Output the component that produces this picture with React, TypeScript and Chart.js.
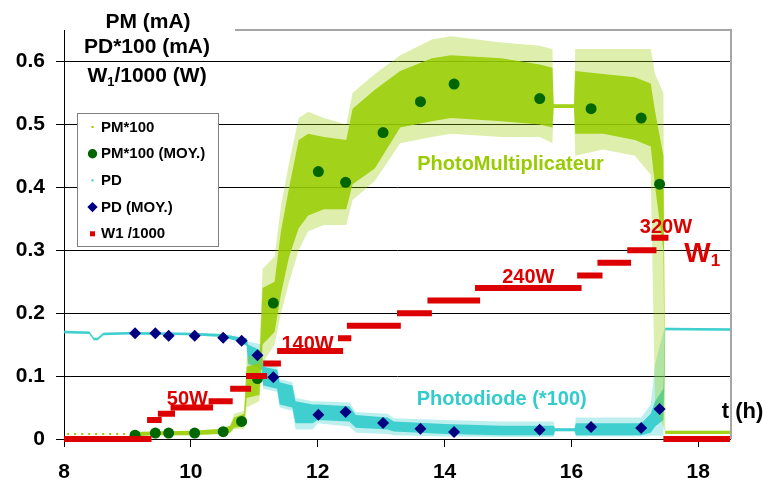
import React, { useEffect, useRef } from "react";
import { Chart, registerables } from "chart.js";

Chart.register(...registerables);

// ---------- DATA ----------
// W1 heating power steps (W), each held from start to end (h)
const w1Start = [8.0, 9.31, 9.48, 9.68, 10.28, 10.62, 10.87, 11.14, 11.36, 12.32, 12.46, 13.25, 13.73, 14.48, 16.09, 16.41, 16.88, 17.26, 17.45];
const w1End = [9.38, 9.54, 9.75, 10.35, 10.66, 10.95, 11.2, 11.42, 12.4, 12.53, 13.31, 13.8, 14.56, 16.16, 16.49, 16.94, 17.34, 17.53, 18.5];
const w1Watts = [0, 30, 40, 50, 60, 80, 100, 120, 140, 160, 180, 200, 220, 240, 260, 280, 300, 320, 0];

// averaged points (MOY.)
const meanTimes = [9.12, 9.44, 9.65, 10.06, 10.51, 10.8, 11.05, 11.3, 12.01, 12.44, 13.03, 13.62, 14.15, 15.5, 16.31, 17.1, 17.39];
const pmMean = [0.006, 0.0095, 0.0095, 0.0095, 0.0116, 0.028, 0.096, 0.216, 0.425, 0.408, 0.487, 0.536, 0.564, 0.541, 0.525, 0.51, 0.405];
const pdMean = [0.168, 0.168, 0.164, 0.164, 0.161, 0.156, 0.133, 0.098, 0.0386, 0.043, 0.0254, 0.0163, 0.011, 0.0148, 0.019, 0.0175, 0.0476];

// PM*100 raw readings: sparse early readings, then envelope of the point cloud
const pmSparseTimes = [8.05, 9.1];
const pmSparseLevel = [0.008, 0.008];
const pmTimes = [9.1, 9.4, 10.0, 10.45, 10.62, 10.68, 10.84, 10.88, 11.08, 11.13, 11.32, 11.42, 11.55, 11.7, 11.85, 12.1, 12.45, 12.55, 12.9, 13.3, 13.8, 14.1, 14.9, 15.5, 15.7, 15.72, 16.04, 16.06, 16.5, 17.0, 17.25, 17.32, 17.45, 17.48, 18.5];
const pmCoreLow = [0.004, 0.006, 0.006, 0.008, 0.01, 0.018, 0.02, 0.065, 0.07, 0.15, 0.17, 0.23, 0.29, 0.335, 0.355, 0.365, 0.365, 0.405, 0.43, 0.495, 0.505, 0.51, 0.505, 0.5, 0.495, 0.526, 0.526, 0.485, 0.485, 0.475, 0.465, 0.4, 0.3, 0.008, 0.008];
const pmCoreHigh = [0.011, 0.012, 0.013, 0.016, 0.021, 0.034, 0.04, 0.115, 0.12, 0.24, 0.25, 0.33, 0.4, 0.475, 0.485, 0.48, 0.475, 0.525, 0.555, 0.585, 0.605, 0.61, 0.605, 0.595, 0.59, 0.532, 0.532, 0.585, 0.58, 0.575, 0.565, 0.52, 0.45, 0.013, 0.013];
const pmOuterLow = [0.004, 0.006, 0.006, 0.008, 0.01, 0.016, 0.016, 0.05, 0.06, 0.12, 0.15, 0.2, 0.25, 0.3, 0.33, 0.34, 0.34, 0.38, 0.41, 0.47, 0.48, 0.485, 0.48, 0.48, 0.47, 0.526, 0.526, 0.45, 0.46, 0.45, 0.42, 0.05, 0.02, 0.008, 0.008];
const pmOuterHigh = [0.011, 0.012, 0.013, 0.016, 0.021, 0.04, 0.045, 0.13, 0.14, 0.27, 0.29, 0.37, 0.44, 0.51, 0.52, 0.51, 0.5, 0.55, 0.58, 0.61, 0.635, 0.64, 0.63, 0.625, 0.62, 0.532, 0.532, 0.62, 0.62, 0.62, 0.62, 0.58, 0.55, 0.013, 0.013];

// PD (*100) raw readings: envelope of the point cloud
const pdTimes = [8.0, 8.4, 8.47, 8.53, 8.62, 9.0, 10.0, 10.5, 10.75, 10.88, 10.9, 11.12, 11.14, 11.36, 11.4, 11.6, 11.65, 11.92, 12.0, 12.5, 12.6, 13.1, 13.2, 14.0, 14.9, 15.72, 15.74, 16.05, 16.07, 17.1, 17.25, 17.32, 17.45, 17.48, 18.5];
const pdCoreLow = [0.168, 0.167, 0.157, 0.157, 0.165, 0.166, 0.165, 0.162, 0.155, 0.148, 0.12, 0.11, 0.085, 0.08, 0.055, 0.05, 0.025, 0.025, 0.03, 0.028, 0.018, 0.015, 0.012, 0.008, 0.006, 0.006, 0.0125, 0.0125, 0.006, 0.006, 0.01, 0.02, 0.03, 0.173, 0.172];
const pdCoreHigh = [0.172, 0.171, 0.161, 0.161, 0.169, 0.17, 0.169, 0.167, 0.162, 0.16, 0.15, 0.14, 0.115, 0.11, 0.09, 0.085, 0.06, 0.055, 0.055, 0.052, 0.038, 0.034, 0.028, 0.024, 0.021, 0.021, 0.017, 0.017, 0.025, 0.025, 0.04, 0.06, 0.08, 0.177, 0.176];
const pdOuterLow = [0.168, 0.167, 0.157, 0.157, 0.165, 0.166, 0.165, 0.162, 0.155, 0.148, 0.11, 0.1, 0.08, 0.075, 0.05, 0.045, 0.015, 0.015, 0.025, 0.02, 0.01, 0.008, 0.006, 0.004, 0.003, 0.003, 0.0125, 0.0125, 0.004, 0.004, 0.005, 0.005, 0.005, 0.173, 0.172];
const pdOuterHigh = [0.172, 0.171, 0.161, 0.161, 0.169, 0.17, 0.169, 0.167, 0.162, 0.16, 0.155, 0.15, 0.12, 0.115, 0.095, 0.09, 0.065, 0.06, 0.06, 0.058, 0.043, 0.04, 0.033, 0.03, 0.028, 0.028, 0.017, 0.017, 0.034, 0.034, 0.055, 0.12, 0.17, 0.177, 0.176];

// axis ticks
const xTicks = [8, 10, 12, 14, 16, 18];
const yTicks = [0, 0.1, 0.2, 0.3, 0.4, 0.5, 0.6];

// ---------- STYLE ----------
const FONT = '"Liberation Sans", Arial, Helvetica, sans-serif';
const PM_COLOR = "#99cc00";
const PD_COLOR = "#33cccc";
const PM_MEAN_COLOR = "#006600";
const PD_MEAN_COLOR = "#000080";
const RED = "#dd0000";

const legendItems = [
  { label: "PM*100", kind: "dot", color: PM_COLOR },
  { label: "PM*100 (MOY.)", kind: "circle", color: PM_MEAN_COLOR },
  { label: "PD", kind: "dot", color: PD_COLOR },
  { label: "PD (MOY.)", kind: "diamond", color: PD_MEAN_COLOR },
  { label: "W1 /1000", kind: "square", color: RED },
];

const notes = [
  { text: "PhotoMultiplicateur", x: 15.04, y: 0.427, color: PM_COLOR, size: 20, align: "center" },
  { text: "Photodiode (*100)", x: 14.9, y: 0.0545, color: PD_COLOR, size: 20, align: "center" },
  { text: "50W", x: 9.945, y: 0.0545, color: RED, size: 20, align: "center" },
  { text: "140W", x: 11.84, y: 0.1417, color: RED, size: 20, align: "center" },
  { text: "240W", x: 15.32, y: 0.248, color: RED, size: 20, align: "center" },
  { text: "320W", x: 17.49, y: 0.3275, color: RED, size: 20, align: "center" },
  { text: "t (h)", x: 18.37, y: 0.0338, color: "#000", size: 22, align: "left" },
];

const pts = (xs: number[], ys: number[]) => xs.map((x, i) => ({ x, y: ys[i] }));

function buildW1() {
  const out: { x: number; y: number | null }[] = [];
  w1Start.forEach((s, i) => {
    const v = w1Watts[i] / 1000;
    out.push({ x: s, y: v }, { x: w1End[i], y: v }, { x: w1End[i], y: null });
  });
  return out;
}

const decor = {
  id: "decor",
  beforeDatasetsDraw(chart: any) {
    const { ctx, chartArea } = chart;
    const { top, right, bottom } = chartArea;
    ctx.save();
    ctx.strokeStyle = "#a6a6a6";
    ctx.lineWidth = 2;
    ctx.beginPath();
    ctx.moveTo(235, top);
    ctx.lineTo(right + 1, top);
    ctx.lineTo(right + 1, bottom);
    ctx.stroke();
    ctx.restore();
  },
  afterDraw(chart: any) {
    const { ctx, scales, chartArea } = chart;
    const xs = scales.x;
    const ys = scales.y;
    ctx.save();
    // annotations
    for (const n of notes) {
      ctx.font = `bold ${n.size}px ${FONT}`;
      ctx.fillStyle = n.color;
      ctx.textAlign = n.align;
      ctx.textBaseline = "alphabetic";
      ctx.fillText(n.text, xs.getPixelForValue(n.x), ys.getPixelForValue(n.y));
    }
    // big W1
    {
      const px = xs.getPixelForValue(17.78);
      const py = ys.getPixelForValue(0.2814);
      ctx.fillStyle = RED;
      ctx.textAlign = "left";
      ctx.font = `bold 28px ${FONT}`;
      ctx.fillText("W", px, py);
      const w = ctx.measureText("W").width;
      ctx.font = `bold 17px ${FONT}`;
      ctx.fillText("1", px + w, py + 4);
    }
    // y-axis title (three lines)
    ctx.fillStyle = "#000";
    ctx.textAlign = "center";
    ctx.font = `bold 21px ${FONT}`;
    ctx.fillText("PM (mA)", 148, 28);
    ctx.fillText("PD*100 (mA)", 147, 53);
    {
      ctx.textAlign = "left";
      ctx.font = `bold 21px ${FONT}`;
      const wW = ctx.measureText("W").width;
      const wRest = ctx.measureText("/1000 (W)").width;
      ctx.font = `bold 13px ${FONT}`;
      const w1 = ctx.measureText("1").width;
      const total = wW + w1 + wRest;
      let x = 147 - total / 2;
      ctx.font = `bold 21px ${FONT}`;
      ctx.fillText("W", x, 82);
      x += wW;
      ctx.font = `bold 13px ${FONT}`;
      ctx.fillText("1", x, 86);
      x += w1;
      ctx.font = `bold 21px ${FONT}`;
      ctx.fillText("/1000 (W)", x, 82);
    }
    // legend box
    const bx = chartArea.left + 13;
    const by = 113;
    const bw = 141;
    const bh = 133;
    ctx.fillStyle = "#fff";
    ctx.fillRect(bx, by, bw, bh);
    ctx.strokeStyle = "#808080";
    ctx.lineWidth = 1;
    ctx.strokeRect(bx + 0.5, by + 0.5, bw, bh);
    legendItems.forEach((it, i) => {
      const cy = by + 14 + i * 26.7;
      const mx = bx + 15.5;
      ctx.fillStyle = it.color;
      if (it.kind === "dot") {
        ctx.fillRect(mx - 1, cy - 1, 2, 2);
      } else if (it.kind === "circle") {
        ctx.beginPath();
        ctx.arc(mx, cy, 4.7, 0, Math.PI * 2);
        ctx.fill();
      } else if (it.kind === "diamond") {
        ctx.beginPath();
        ctx.moveTo(mx, cy - 5.2);
        ctx.lineTo(mx + 5.2, cy);
        ctx.lineTo(mx, cy + 5.2);
        ctx.lineTo(mx - 5.2, cy);
        ctx.closePath();
        ctx.fill();
      } else {
        ctx.fillRect(mx - 2.5, cy - 2.5, 5, 5);
      }
      ctx.fillStyle = "#000";
      ctx.font = `bold 15px ${FONT}`;
      ctx.textAlign = "left";
      ctx.textBaseline = "middle";
      ctx.fillText(it.label, bx + 24, cy + 0.5);
    });
    ctx.restore();
  },
};

export default function App() {
  const ref = useRef<HTMLCanvasElement | null>(null);
  useEffect(() => {
    if (!ref.current) return;
    const band = (lo: number[], hi: number[], xs: number[], color: string, order: number, label: string) => [
      {
        label: label + " lo",
        data: pts(xs, lo),
        borderWidth: 0,
        pointRadius: 0,
        fill: false,
        order,
      },
      {
        label,
        data: pts(xs, hi),
        borderWidth: 0,
        pointRadius: 0,
        fill: "-1",
        backgroundColor: color,
        order,
      },
    ];
    const chart = new Chart(ref.current, {
      type: "line",
      data: {
        datasets: [
          ...band(pdOuterLow, pdOuterHigh, pdTimes, "rgba(51,204,204,0.32)", 14, "PD outer"),
          ...band(pdCoreLow, pdCoreHigh, pdTimes, "rgba(51,204,204,0.9)", 13, "PD"),
          ...band(pmOuterLow, pmOuterHigh, pmTimes, "rgba(153,204,0,0.32)", 12, "PM outer"),
          ...band(pmCoreLow, pmCoreHigh, pmTimes, "rgba(153,204,0,0.85)", 11, "PM*100"),
          {
            label: "PM*100 sparse",
            data: pts(pmSparseTimes, pmSparseLevel),
            borderColor: PM_COLOR,
            borderWidth: 2,
            borderDash: [2, 5],
            pointRadius: 0,
            fill: false,
            order: 10,
          },
          {
            label: "PD (MOY.)",
            data: pts(meanTimes, pdMean),
            showLine: false,
            pointStyle: "rectRot",
            pointRadius: 6,
            pointBackgroundColor: PD_MEAN_COLOR,
            pointBorderColor: PD_MEAN_COLOR,
            pointBorderWidth: 0,
            clip: false,
            order: 3,
          },
          {
            label: "PM*100 (MOY.)",
            data: pts(meanTimes, pmMean),
            showLine: false,
            pointStyle: "circle",
            pointRadius: 5.5,
            pointBackgroundColor: PM_MEAN_COLOR,
            pointBorderColor: PM_MEAN_COLOR,
            pointBorderWidth: 0,
            clip: false,
            order: 2,
          },
          {
            label: "W1 /1000",
            data: buildW1(),
            borderColor: RED,
            borderWidth: 6,
            borderCapStyle: "butt",
            pointRadius: 0,
            spanGaps: false,
            fill: false,
            clip: false,
            order: 1,
          },
        ] as any,
      },
      options: {
        animation: false,
        responsive: false,
        events: [],
        layout: { padding: { top: 30, right: 33, left: 0, bottom: 0 } },
        elements: { line: { tension: 0 } },
        plugins: { legend: { display: false }, tooltip: { enabled: false } },
        scales: {
          x: {
            type: "linear",
            min: 8,
            max: 18.5,
            afterBuildTicks: (s: any) => {
              s.ticks = xTicks.map((v) => ({ value: v }));
            },
            afterFit: (s: any) => {
              s.height = 45;
            },
            border: { display: true, color: "#000", width: 1 },
            grid: { drawOnChartArea: false, drawTicks: true, tickLength: 8, color: "#000" },
            ticks: {
              color: "#000",
              padding: 13,
              maxRotation: 0,
              autoSkip: false,
              font: { family: FONT, size: 21, weight: "bold" },
              callback: (v: any) => String(v),
            },
          },
          y: {
            type: "linear",
            min: 0,
            max: 0.65,
            afterBuildTicks: (s: any) => {
              s.ticks = yTicks.map((v) => ({ value: v }));
            },
            afterFit: (s: any) => {
              s.width = 64;
            },
            border: { display: true, color: "#000", width: 1 },
            grid: { color: "#000", lineWidth: 1, tickLength: 8 },
            ticks: {
              color: "#000",
              padding: 11,
              font: { family: FONT, size: 21, weight: "bold" },
              callback: (v: any) => String(Number(Number(v).toFixed(1))),
            },
          },
        },
      } as any,
      plugins: [decor],
    });
    return () => chart.destroy();
  }, []);
  return (
    <div style={{ position: "absolute", left: 0, top: 0, width: 763, height: 484, background: "#fff" }}>
      <canvas ref={ref} width={763} height={484} style={{ display: "block" }} />
    </div>
  );
}
